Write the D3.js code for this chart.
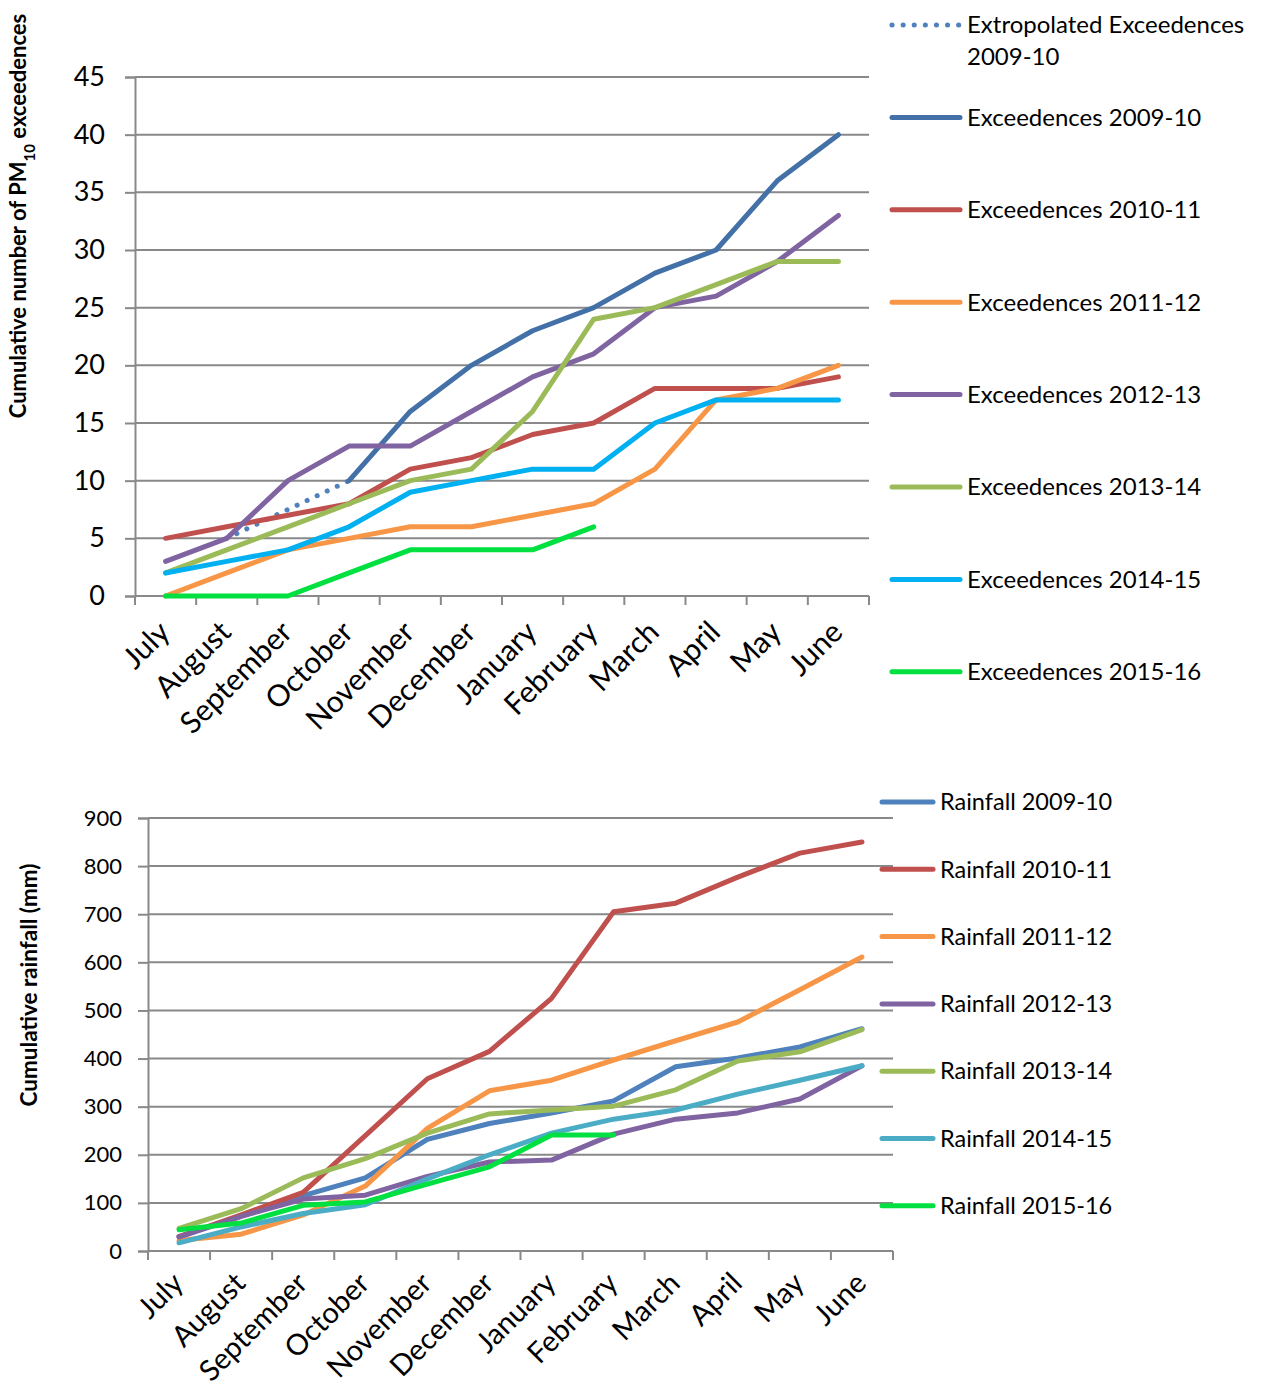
<!DOCTYPE html>
<html>
<head>
<meta charset="utf-8">
<script src="https://cdn.jsdelivr.net/npm/d3@7"></script>
<style>
  body { margin: 0; background: #fff; }
  text { font-family: Lato, "Open Sans", sans-serif; fill: #000; }
</style>
</head>
<body>
<div id="chart"></div>
<script>
// months of the measuring year, July to June
const months = ["July", "August", "September", "October", "November", "December",
                "January", "February", "March", "April", "May", "June"];

// cumulative PM10 exceedences (null = no value)
const extrapolated0910 = [null, 5, 7.5, 10, null, null, null, null, null, null, null, null];
const exceed0910 = [null, null, null, 10, 16, 20, 23, 25, 28, 30, 36, 40];
const exceed1011 = [5, 6, 7, 8, 11, 12, 14, 15, 18, 18, 18, 19];
const exceed1112 = [0, 2, 4, 5, 6, 6, 7, 8, 11, 17, 18, 20];
const exceed1213 = [3, 5, 10, 13, 13, 16, 19, 21, 25, 26, 29, 33];
const exceed1314 = [2, 4, 6, 8, 10, 11, 16, 24, 25, 27, 29, 29];
const exceed1415 = [2, 3, 4, 6, 9, 10, 11, 11, 15, 17, 17, 17];
const exceed1516 = [0, 0, 0, 2, 4, 4, 4, 6];
const exceedTicks = [0, 5, 10, 15, 20, 25, 30, 35, 40, 45];

// cumulative rainfall in mm
const rain0910 = [30, 72, 115, 152, 232, 265, 287, 312, 383, 401, 424, 462];
const rain1011 = [30, 75, 122, 240, 358, 415, 525, 705, 723, 777, 827, 850];
const rain1112 = [22, 35, 75, 135, 255, 333, 355, 397, 437, 476, 543, 611];
const rain1213 = [29, 72, 108, 116, 155, 185, 189, 243, 274, 287, 316, 385];
const rain1314 = [47, 88, 152, 192, 245, 285, 293, 301, 335, 395, 414, 460];
const rain1415 = [17, 50, 78, 96, 150, 200, 245, 274, 293, 326, 355, 385];
const rain1516 = [44, 58, 95, 102, 139, 175, 241, 241];
const rainTicks = [0, 100, 200, 300, 400, 500, 600, 700, 800, 900];

const exceedSeries = [
    {name: "Extropolated Exceedences", name2: "2009-10", values: extrapolated0910, color: "#4F81BD", dotted: true},
    {name: "Exceedences 2009-10", values: exceed0910, color: "#4470A8"},
    {name: "Exceedences 2010-11", values: exceed1011, color: "#C0504D"},
    {name: "Exceedences 2011-12", values: exceed1112, color: "#F79646"},
    {name: "Exceedences 2012-13", values: exceed1213, color: "#8064A2"},
    {name: "Exceedences 2013-14", values: exceed1314, color: "#9BBB59"},
    {name: "Exceedences 2014-15", values: exceed1415, color: "#00B0F0"},
    {name: "Exceedences 2015-16", values: exceed1516, color: "#00E040"}
];

const rainSeries = [
    {name: "Rainfall 2009-10", values: rain0910, color: "#4F81BD"},
    {name: "Rainfall 2010-11", values: rain1011, color: "#C0504D"},
    {name: "Rainfall 2011-12", values: rain1112, color: "#F79646"},
    {name: "Rainfall 2012-13", values: rain1213, color: "#8064A2"},
    {name: "Rainfall 2013-14", values: rain1314, color: "#9BBB59"},
    {name: "Rainfall 2014-15", values: rain1415, color: "#4BACC6"},
    {name: "Rainfall 2015-16", values: rain1516, color: "#00E040"}
];

const GRID = "#898989";

const svg = d3.select("#chart")
    .append("svg")
        .attr("width", 1263)
        .attr("height", 1393);

// one line chart with an Excel-like look
const drawChart = (opts) => {
    const xScale = d3.scaleBand()
        .domain(months)
        .range([opts.left, opts.right]);
    const yScale = d3.scaleLinear()
        .domain([0, d3.max(opts.ticks)])
        .range([opts.bottom, opts.top]);

    const g = svg.append("g");

    // gridlines
    g.selectAll(".grid")
        .data(opts.ticks)
        .join("line")
            .attr("x1", opts.left)
            .attr("x2", opts.right)
            .attr("y1", d => yScale(d))
            .attr("y2", d => yScale(d))
            .attr("stroke", GRID)
            .attr("stroke-width", 2);

    // y axis
    const leftAxis = d3.axisLeft(yScale)
        .tickValues(opts.ticks)
        .tickSize(10)
        .tickPadding(opts.tickPad);
    const yAxis = g.append("g")
        .attr("transform", `translate(${opts.left},0)`)
        .call(leftAxis);
    yAxis.selectAll("path, line").attr("stroke", GRID).attr("stroke-width", 2);
    yAxis.selectAll("text")
        .style("font-size", opts.tickFont + "px")
        .style("font-family", "Lato, sans-serif");

    // x axis with ticks between categories
    g.append("line")
        .attr("x1", opts.left).attr("x2", opts.right)
        .attr("y1", opts.bottom).attr("y2", opts.bottom)
        .attr("stroke", GRID).attr("stroke-width", 2);
    g.selectAll(".xtick")
        .data(months.map(m => xScale(m)).concat([opts.right]))
        .join("line")
            .attr("x1", d => d).attr("x2", d => d)
            .attr("y1", opts.bottom).attr("y2", opts.bottom + 9)
            .attr("stroke", GRID).attr("stroke-width", 2);
    g.selectAll(".xlabel")
        .data(months)
        .join("text")
            .attr("text-anchor", "end")
            .attr("transform", d => `translate(${xScale(d) + xScale.bandwidth() / 2 + opts.labDx}, ${opts.bottom + opts.labDy}) rotate(-45)`)
            .style("font-size", opts.labFont + "px")
            .text(d => d);

    // y title
    const title = g.append("text")
        .attr("text-anchor", "middle")
        .attr("transform", `translate(${opts.titleX}, ${opts.titleY}) rotate(-90)`)
        .style("font-size", opts.titleFont + "px")
        .style("font-weight", "bold");
    opts.title(title);

    // series lines
    const line = d3.line()
        .defined(d => d != null)
        .x((d, i) => xScale(months[i]) + xScale.bandwidth() / 2)
        .y(d => yScale(d));

    opts.series.forEach(s => {
        g.append("path")
            .datum(s.values)
            .attr("d", line)
            .attr("fill", "none")
            .attr("stroke", s.color)
            .attr("stroke-width", 5)
            .attr("stroke-linejoin", "round")
            .attr("stroke-linecap", "round")
            .attr("stroke-dasharray", s.dotted ? "0.1,11" : null);
    });

    // legend
    opts.series.forEach((s, i) => {
        const y = opts.legendY + i * opts.legendStep;
        g.append("line")
            .attr("x1", opts.legendX1).attr("x2", opts.legendX2)
            .attr("y1", y).attr("y2", y)
            .attr("stroke", s.color)
            .attr("stroke-width", 5)
            .attr("stroke-linecap", "round")
            .attr("stroke-dasharray", s.dotted ? "0.1,11" : null);
        g.append("text")
            .attr("x", opts.legendX2 + 7)
            .attr("y", y)
            .attr("dy", "0.35em")
            .style("font-size", opts.legendFont + "px")
            .text(s.name);
        if (s.name2) {
            g.append("text")
                .attr("x", opts.legendX2 + 7)
                .attr("y", y + 32)
                .attr("dy", "0.35em")
                .style("font-size", opts.legendFont + "px")
                .text(s.name2);
        }
    });
};

drawChart({
    series: exceedSeries, ticks: exceedTicks,
    left: 135, right: 869, top: 77, bottom: 596,
    tickFont: 27, tickPad: 20, labFont: 30, labDx: 6, labDy: 38,
    titleX: 26, titleY: 216, titleFont: 22,
    title: t => {
        t.append("tspan").text("Cumulative number of PM");
        t.append("tspan").attr("baseline-shift", "sub").style("font-size", "15px").text("10");
        t.append("tspan").text(" exceedences");
    },
    legendX1: 892, legendX2: 960, legendY: 25, legendStep: 92.4, legendFont: 24
});

drawChart({
    series: rainSeries, ticks: rainTicks,
    left: 148, right: 893, top: 818, bottom: 1251,
    tickFont: 22, tickPad: 16, labFont: 29, labDx: 6, labDy: 34,
    titleX: 37, titleY: 985, titleFont: 22.5,
    title: t => t.text("Cumulative rainfall (mm)"),
    legendX1: 882, legendX2: 933, legendY: 802, legendStep: 67.3, legendFont: 23.5
});
</script>
</body>
</html>
